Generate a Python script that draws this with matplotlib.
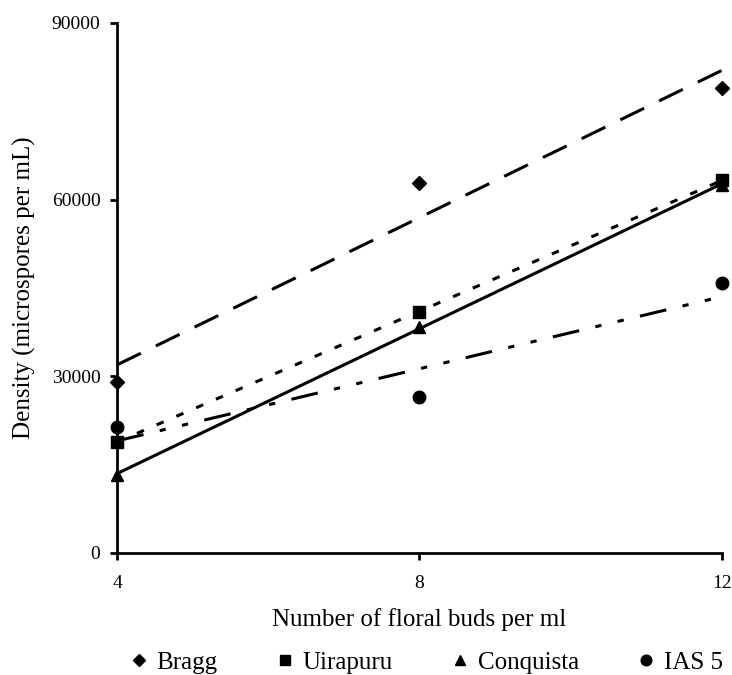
import numpy as np
import matplotlib
matplotlib.use('Agg')
import matplotlib.pyplot as plt
from matplotlib.lines import Line2D

# Data
buds = [4, 8, 12]
bragg = [29000, 62800, 79000]
uirapuru = [18900, 40900, 63300]
conquista = [13300, 38400, 62500]
ias5 = [21400, 26500, 45900]

names = ['Bragg', 'Uirapuru', 'Conquista', 'IAS 5']
markers = ['D', 's', '^', 'o']
msizes = [7, 8.5, 9, 9]
# dash patterns (points) for the linear trend lines
dashes_pt = [(19, 12), (5.5, 10), (), (19.5, 12, 4.5, 12, 4.5, 12)]

plt.rcParams['font.family'] = ['Liberation Serif', 'DejaVu Serif']

fig = plt.figure(figsize=(7.32, 6.75), dpi=100)
ax = fig.add_axes([0.16, 0.181, 0.826, 0.785])

lw = 2.2
for vals, name, mk, ms, ds in zip([bragg, uirapuru, conquista, ias5], names, markers, msizes, dashes_pt):
    x = np.array(buds, dtype=float)
    y = np.array(vals, dtype=float)
    slope, intercept = np.polyfit(x, y, 1)
    xs = np.array([x.min(), x.max()])
    line, = ax.plot(xs, slope * xs + intercept, color='black', lw=lw, solid_capstyle='butt')
    if ds:
        line.set_dashes([d / lw for d in ds])
        line.set_dash_capstyle('butt')
    ax.plot(x, y, linestyle='none', marker=mk, ms=ms, color='black', clip_on=False, zorder=3)

ax.set_xlim(4, 12)
ax.set_ylim(0, 90000)
ax.set_xticks([4, 8, 12])
ax.set_yticks([0, 30000, 60000, 90000])

for side in ['top', 'right']:
    ax.spines[side].set_visible(False)
for side in ['left', 'bottom']:
    ax.spines[side].set_linewidth(2.0)

ax.tick_params(axis='both', direction='out', length=5, width=2.0, labelsize=14, colors='black')
ax.tick_params(axis='x', pad=11)
ax.tick_params(axis='y', pad=7)

ax.set_xlabel('Number of floral buds per ml', fontsize=18)
ax.set_ylabel('Density (microspores per mL)', fontsize=18)
ax.xaxis.set_label_coords(0.5, -0.104)
ax.yaxis.set_label_coords(-0.134, 0.5)

handles = [Line2D([], [], linestyle='none', marker=mk, ms=ms * 0.85, color='black')
           for mk, ms in zip(markers, msizes)]
fig.legend(handles, names, loc='center', bbox_to_anchor=(0.58, 0.018), ncol=4,
           frameon=False, fontsize=18, handletextpad=0.2, columnspacing=2.2,
           handlelength=1.0, borderaxespad=0)

fig.savefig('out.png', dpi=100)
